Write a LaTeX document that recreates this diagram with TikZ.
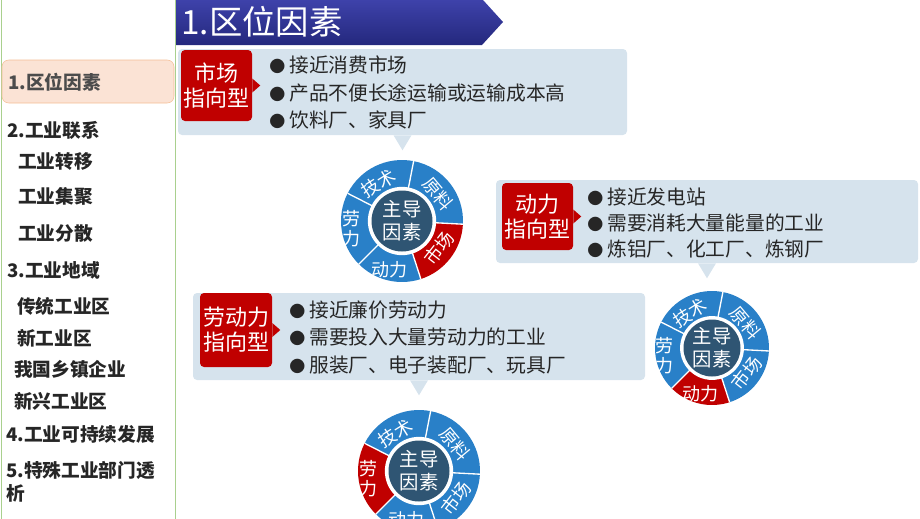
\documentclass[tikz,border=0pt]{standalone}
\usepackage{fontspec}
\setmainfont{Noto Sans CJK SC}
\usetikzlibrary{calc}
\definecolor{wheelblue}{RGB}{41,128,200}
\definecolor{labred}{RGB}{192,0,0}
\definecolor{hubblue}{RGB}{47,85,115}
\definecolor{callfill}{RGB}{214,227,237}
\definecolor{bannertop}{RGB}{62,66,170}
\definecolor{bannerbot}{RGB}{36,40,125}
\definecolor{panelgreen}{RGB}{169,208,142}
\definecolor{hlfill}{RGB}{251,227,213}
\definecolor{hldraw}{RGB}{244,190,150}
\definecolor{itemgray}{RGB}{38,38,38}
\newcommand{\bul}{{\fontsize{12}{12}\selectfont ●}\hspace{3pt}}
\tikzset{
  callbox/.style={fill=callfill, rounded corners=3pt, inner sep=0pt},
  redlab/.style={fill=labred, rounded corners=3pt, inner sep=0pt, text=white, align=center,
                 font=\fontsize{16.5}{18.75}\selectfont},
  bullets/.style={anchor=west, inner sep=0pt, align=left, text=itemgray},
  item/.style={anchor=west, inner sep=0pt, text=itemgray, font=\fontsize{14}{16}\selectfont\bfseries},
  seglab/.style={inner sep=0pt, text=white, align=center, font=\fontsize{13.5}{15}\selectfont},
  hubtxt/.style={inner sep=0pt, text=white, align=center, font=\fontsize{14.5}{17}\selectfont}
}
\begin{document}
\begin{tikzpicture}[x=0.75pt,y=-0.75pt]
    \useasboundingbox (0,0) rectangle (920,518);
    %Left panel
    \draw[panelgreen] (1,-2) rectangle (175,520);
    \node[fill=hlfill, draw=hldraw, rounded corners=5pt, minimum width=129pt, minimum height=32.25pt] (hl) at (88,81.5) {};
    \node[item, text=black!70] (item0) at (8,82) {1.区位因素};
    \foreach \x/\y/\t [count=\i] in {7/130/2.工业联系, 18/161/工业转移, 18/196/工业集聚, 18/233/工业分散,
        7/270/3.工业地域, 17/306/传统工业区, 17/338/新工业区, 14/369/我国乡镇企业, 14/401/新兴工业区,
        6/434/4.工业可持续发展, 6/470/5.特殊工业部门透, 6/493/析}
      \node[item] (item\i) at (\x,\y) {\t};
    %Title banner
    \shade[top color=bannertop, bottom color=bannerbot] (176,0) -- (483,0) -- (503,22) -- (482,45) -- (176,45) -- cycle;
    \node[anchor=west, inner sep=0pt, text=white, font=\fontsize{25}{28}\selectfont] (title) at (181,22) {1.区位因素};
    %Callout boxes
    \node[callbox, minimum width=336.75pt, minimum height=64.5pt] (mbox) at (402.5,92) {};
    \node[callbox, minimum width=316.5pt, minimum height=62.25pt] (pbox) at (707,221.5) {};
    \node[callbox, minimum width=339pt, minimum height=65.25pt] (lbox) at (419,336.5) {};
    \foreach \b in {mbox, pbox, lbox}
      \fill[callfill] ($(\b.south)+(-9,0)$) -- ($(\b.south)+(0,15)$) -- ($(\b.south)+(9,0)$) -- cycle;
    %Red labels
    \node[redlab, minimum width=53.25pt, minimum height=53.25pt] (mlab) at (216.5,85.5) {市场\\指向型};
    \node[redlab, minimum width=53.25pt, minimum height=50.25pt] (plab) at (537.5,216.5) {动力\\指向型};
    \node[redlab, minimum width=54pt, minimum height=55.5pt] (llab) at (236,330) {劳动力\\指向型};
    \foreach \l in {mlab, plab, llab}
      \fill[labred] ($(\l.east)+(0,-7)$) -- ($(\l.east)+(8,0)$) -- ($(\l.east)+(0,7)$) -- cycle;
    %Bullet texts
    \node[bullets, font=\fontsize{14.8}{20.6}\selectfont] (mtxt) at (269,92.5)
      {\bul 接近消费市场\\\bul 产品不便长途运输或运输成本高\\\bul 饮料厂、家具厂};
    \node[bullets, font=\fontsize{14.8}{19.5}\selectfont] (ptxt) at (587,223)
      {\bul 接近发电站\\\bul 需要消耗大量能量的工业\\\bul 炼铝厂、化工厂、炼钢厂};
    \node[bullets, font=\fontsize{14.8}{20.6}\selectfont] (ltxt) at (289,337.5)
      {\bul 接近廉价劳动力\\\bul 需要投入大量劳动力的工业\\\bul 服装厂、电子装配厂、玩具厂};
    %Wheels
    \foreach \cx/\cy/\R/\hot [count=\w] in {402/221/61/5, 712/348/57/4, 419/471/61/3}{
      \begin{scope}[shift={(\cx,\cy)}, yscale=-1]
        \foreach \a/\b/\m/\f/\r/\t [count=\i] in {79/153/122/0.73/32/技术, -3/79/37/0.74/-50/原料,
            153/225/189/0.84/0/劳\\力, 225/288/256/0.82/0/动力, 288/357/324/0.75/52/市场}{
          \ifnum\i=\hot \def\segcol{labred}\else\def\segcol{wheelblue}\fi
          \fill[\segcol] (0,0) -- (\a:\R) arc[start angle=\a, end angle=\b, radius=\R] -- cycle;
          \node[seglab, rotate=\r] (w\w-\i) at (\m:\f*\R) {\t};
        }
        %dividers
        \foreach \a in {79,153,225,288,357}
          \draw[white, line width=1pt] (0,0) -- (\a:\R);
        %hub
        \fill[white] (0,0) circle[radius=0.56*\R];
        \fill[hubblue] (0,0) circle[radius=0.5*\R];
        \node[hubtxt] (hub\w) at (0,0) {主导\\因素};
      \end{scope}
    }
\end{tikzpicture}
\end{document}
